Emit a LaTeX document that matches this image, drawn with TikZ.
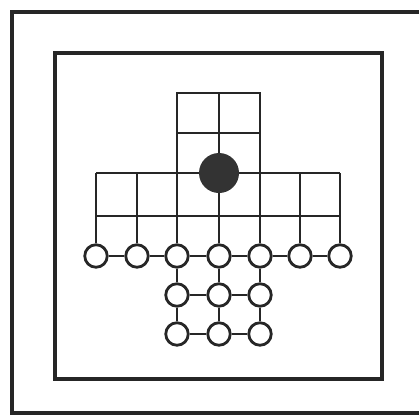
\documentclass[tikz,border=0pt]{standalone}
\begin{document}
\begin{tikzpicture}[x=1pt,y=-1pt,
  frame/.style={line width=3.4pt,draw=black!85},
  gridline/.style={line width=2.8pt,draw=black!85},
  hole/.style={circle,draw=black!85,line width=2.8pt,fill=white,minimum size=22.5pt,inner sep=0pt},
  piece/.style={circle,fill=black!80,minimum size=40pt,inner sep=0pt}]
\useasboundingbox (0,0) rectangle (419,417);
\clip (0,0) rectangle (419,417);
\draw[frame] (12,12) rectangle (430,413);
\draw[frame] (55,53) rectangle (382,379);
% coordinates of the grid
\foreach \n/\x in {1/96,2/137,3/177,4/219,5/260,6/300,7/340}{
  \foreach \m/\y in {1/93,2/133,3/173,4/216}{
    \coordinate (g\n\m) at (\x,\y);
  }
}
% top arm
\draw[gridline] (g33) -- (g31) -- (g51) -- (g53);
\draw[gridline] (g41) -- (g44);
\draw[gridline] (g32) -- (g52);
% wide band
\draw[gridline] (g13) -- (g73);
\draw[gridline] (g14) -- (g74);
% holes
\foreach \n/\x in {1/96,2/137,3/177,4/219,5/260,6/300,7/340}{
  \node[hole] (h\n) at (\x,256) {};
}
\foreach \n/\x in {3/177,4/219,5/260}{
  \node[hole] (a\n) at (\x,295) {};
  \node[hole] (b\n) at (\x,334) {};
}
% connectors
\foreach \n in {1,...,7}{ \draw[gridline] (g\n3) -- (h\n); }
\foreach \n [evaluate=\n as \k using int(\n+1)] in {1,...,6}{ \draw[gridline] (h\n) -- (h\k); }
\foreach \n in {3,4,5}{ \draw[gridline] (h\n) -- (a\n); \draw[gridline] (a\n) -- (b\n); }
\draw[gridline] (a3) -- (a4) -- (a5);
\draw[gridline] (b3) -- (b4) -- (b5);
\node[piece] (p) at (g43) {};
\end{tikzpicture}
\end{document}
